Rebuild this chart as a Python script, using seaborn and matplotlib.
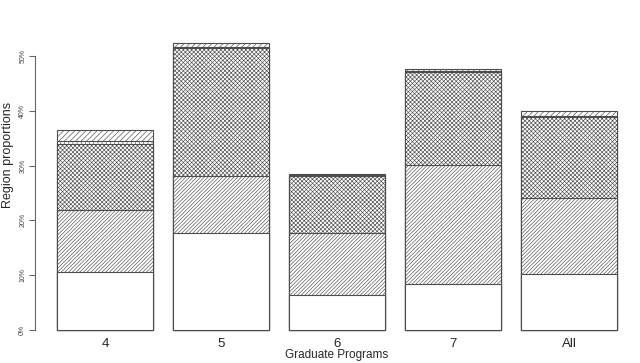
import numpy as np
import pandas as pd
import matplotlib
matplotlib.use("Agg")
import matplotlib.pyplot as plt
import matplotlib.ticker as mticker
import seaborn as sns

# proporções por região (empilhadas)
programas = ["4", "5", "6", "7", "All"]
regiao_1 = [0.106, 0.177, 0.064, 0.084, 0.102]
regiao_2 = [0.113, 0.104, 0.113, 0.217, 0.139]
regiao_3 = [0.120, 0.234, 0.104, 0.170, 0.147]
regiao_4 = [0.006, 0.002, 0.001, 0.001, 0.003]
regiao_5 = [0.020, 0.007, 0.002, 0.005, 0.009]

camadas = [regiao_1, regiao_2, regiao_3, regiao_4, regiao_5]
hatches = [None, "/////////", "xxxxxxxx", "||||", "//////"]

sns.set_style("white")
plt.rcParams["font.family"] = ["Liberation Sans", "DejaVu Sans"]
plt.rcParams["hatch.linewidth"] = 0.45

fig = plt.figure(figsize=(6.4, 3.63), dpi=100)
ax = fig.add_axes([0.054, 0.059, 0.945, 0.855])

acumulado = np.cumsum(np.array(camadas), axis=0)

# desenha do topo para a base para simular o empilhamento
for i in range(len(camadas) - 1, -1, -1):
    df = pd.DataFrame({"Programa": programas, "Altura": acumulado[i]})
    n_antes = len(ax.patches)
    sns.barplot(data=df, x="Programa", y="Altura", color="white", width=0.828,
                edgecolor="#4d4d4d", linewidth=0.8, saturation=1, ax=ax)
    for p in ax.patches[n_antes:]:
        p.set_facecolor("white")
        if hatches[i]:
            p.set_hatch(hatches[i])

ax.set_xlim(-0.607, 4.607)
ax.set_ylim(-0.021, 0.545)
ax.set_yticks([0, 0.1, 0.2, 0.3, 0.4, 0.5])
ax.yaxis.set_major_formatter(mticker.PercentFormatter(xmax=1.0, decimals=0))
for lbl in ax.get_yticklabels():
    lbl.set_rotation(90)
    lbl.set_va("center")
    lbl.set_fontsize(5)
    lbl.set_color("#444444")
ax.tick_params(axis="y", left=True, length=4, width=0.8, color="#666666", pad=2)
ax.tick_params(axis="x", bottom=False, labelsize=9.5, pad=-6)

for s in ["top", "right", "bottom"]:
    ax.spines[s].set_visible(False)
ax.spines["left"].set_bounds(0, 0.5)
ax.spines["left"].set_color("#666666")
ax.spines["left"].set_linewidth(0.8)

ax.set_xlabel("")
ax.set_ylabel("")
fig.text(0.5 * (0.054 + 0.999), 0.022, "Graduate Programs", fontsize=8.5,
         ha="center", va="center")
fig.text(0.013, 0.573, "Region proportions", fontsize=9, rotation=90,
         ha="center", va="center")

fig.savefig("out.png", dpi=100)
